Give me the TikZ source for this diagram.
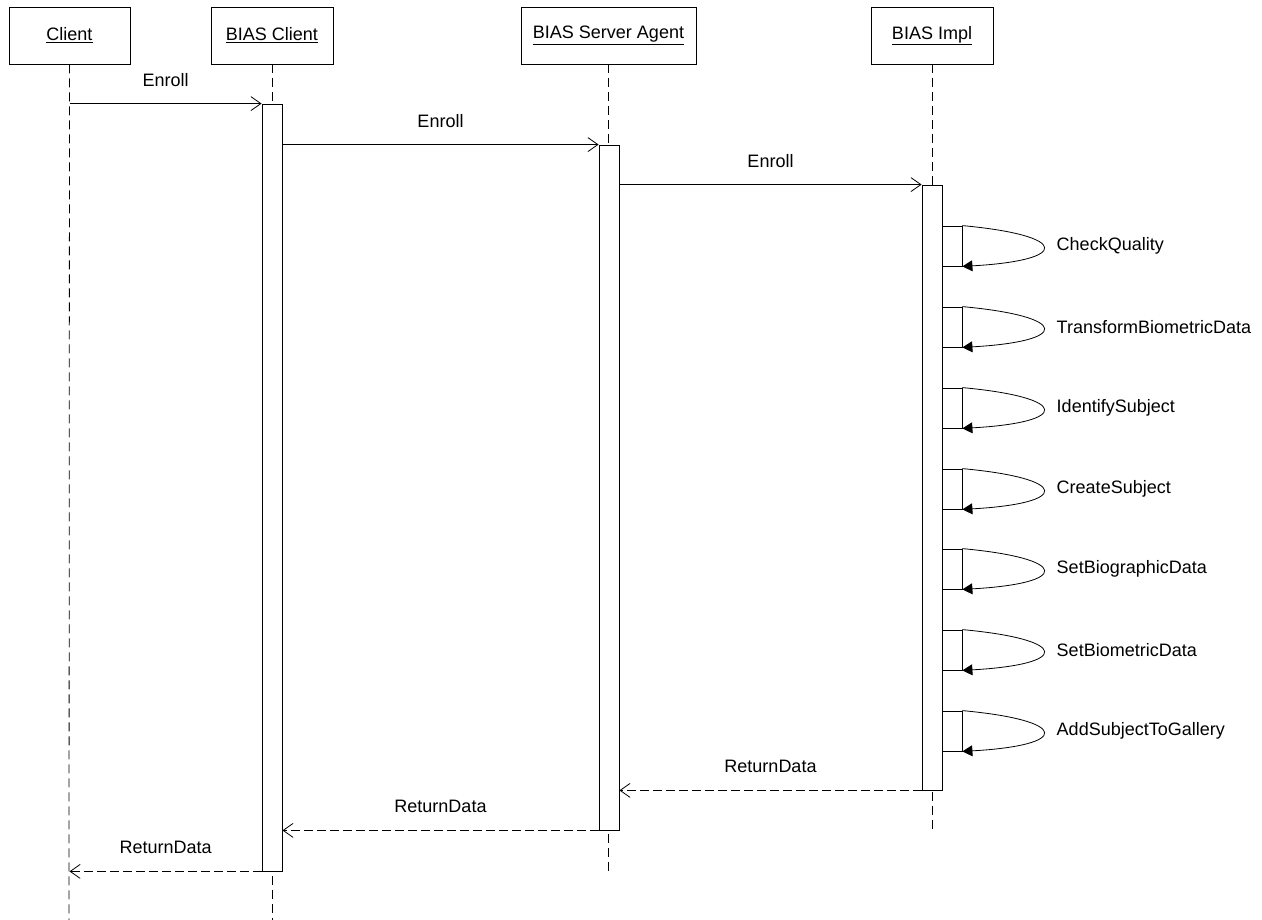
\documentclass[tikz,border=0pt]{standalone}
\usepackage{fontspec}
\setmainfont{Liberation Sans}
\usetikzlibrary{arrows.meta,positioning}

\begin{document}
\begin{tikzpicture}[x=1pt,y=-1pt,line width=0.8pt,
    every node/.style={font=\fontsize{18}{21}\selectfont},
    head/.style={draw,minimum height=57pt,inner sep=0pt},
    life/.style={dash pattern=on 9pt off 5pt},
    bar/.style={draw,fill=white,minimum width=20pt,inner sep=0pt},
    selfbox/.style={draw,fill=white,minimum width=20pt,minimum height=40pt,inner sep=0pt},
    msg/.style={-{Straight Barb[length=10pt,width=14pt]}},
    ret/.style={-{Straight Barb[length=10pt,width=14pt]},dash pattern=on 9pt off 4pt},
    selfmsg/.style={-{Triangle[length=10pt,width=11pt]}}]
  \useasboundingbox (0,0) rectangle (1262,920);
  % participants
  \node[head,minimum width=121pt] (client) at (69.5,35.5) {\underline{Client}};
  \node[head,minimum width=122pt] (bclient) at (272,35.5) {\underline{BIAS Client}};
  \node[head,minimum width=175pt] (agent) at (608.5,35.5) {\underline{BIAS Server Agent}};
  \node[head,minimum width=122pt] (impl) at (932,35.5) {\underline{BIAS Impl}};
  % lifelines
  \coordinate (client-end) at (69,920);
  \coordinate (bclient-end) at (272,920);
  \coordinate (agent-end) at (608.5,872);
  \coordinate (impl-end) at (932,832);
  \draw[life] (client.south) -- (client-end);
  \draw[life] (bclient.south) -- (bclient-end);
  \draw[life] (agent.south) -- (agent-end);
  \draw[life] (impl.south) -- (impl-end);
  % activations
  \node[bar,minimum height=767pt] (bcbar) at (272,487.5) {};
  \node[bar,minimum height=685pt] (agbar) at (609,487.5) {};
  \node[bar,minimum height=605pt] (imbar) at (932,487.5) {};
  % calls
  \draw[msg] (client |- bcbar.north) -- (bcbar.north west) node[midway,above=13pt] {Enroll};
  \draw[msg] (bcbar.east |- agbar.north) -- (agbar.north west) node[midway,above=13pt] {Enroll};
  \draw[msg] (agbar.east |- imbar.north) -- (imbar.north west) node[midway,above=13pt] {Enroll};
  % self calls on BIAS Impl
  \node[selfbox] (s1) at (952,246) {};
  \node[selfbox] (s2) at (952,327) {};
  \node[selfbox] (s3) at (952,408) {};
  \node[selfbox] (s4) at (952,489) {};
  \node[selfbox] (s5) at (952,569) {};
  \node[selfbox] (s6) at (952,650) {};
  \node[selfbox] (s7) at (952,731) {};
  \draw[selfmsg] (s1.north east) .. controls +(108,10) and +(108,-6) .. (s1.south east);
  \draw[selfmsg] (s2.north east) .. controls +(108,10) and +(108,-6) .. (s2.south east);
  \draw[selfmsg] (s3.north east) .. controls +(108,10) and +(108,-6) .. (s3.south east);
  \draw[selfmsg] (s4.north east) .. controls +(108,10) and +(108,-6) .. (s4.south east);
  \draw[selfmsg] (s5.north east) .. controls +(108,10) and +(108,-6) .. (s5.south east);
  \draw[selfmsg] (s6.north east) .. controls +(108,10) and +(108,-6) .. (s6.south east);
  \draw[selfmsg] (s7.north east) .. controls +(108,10) and +(108,-6) .. (s7.south east);
  \node[anchor=west] (l1) at (1053,246) {CheckQuality};
  \node[anchor=west] (l2) at (1053,327) {TransformBiometricData};
  \node[anchor=west] (l3) at (1053,408) {IdentifySubject};
  \node[anchor=west] (l4) at (1053,489) {CreateSubject};
  \node[anchor=west] (l5) at (1053,569) {SetBiographicData};
  \node[anchor=west] (l6) at (1053,650) {SetBiometricData};
  \node[anchor=west] (l7) at (1053,731) {AddSubjectToGallery};
  % returns
  \draw[ret] (imbar.south west) -- (agbar.east |- imbar.south) node[midway,above=14pt] {ReturnData};
  \draw[ret] (agbar.south west) -- (bcbar.east |- agbar.south) node[midway,above=14pt] {ReturnData};
  \draw[ret] (bcbar.south west) -- (client |- bcbar.south) node[midway,above=14pt] {ReturnData};
\end{tikzpicture}
\end{document}
